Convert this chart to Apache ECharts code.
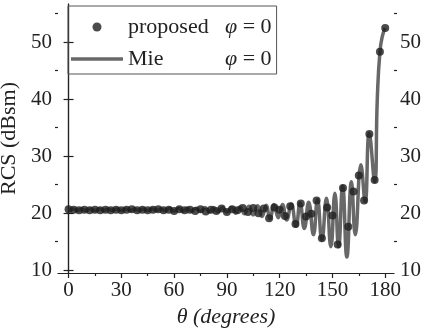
<!DOCTYPE html>
<html>
<head>
<meta charset="utf-8">
<script src="https://cdn.jsdelivr.net/npm/echarts@6/dist/echarts.min.js"></script>
<style>
  html, body { margin: 0; padding: 0; background: #fff; }
  #chart { width: 432px; height: 332px; }
</style>
</head>
<body>
<div id="chart"></div>
<script>
// proposed method, sampled every 3 degrees
const proposedTheta = [0, 3, 6, 9, 12, 15, 18, 21, 24, 27, 30, 33, 36, 39, 42, 45, 48, 51, 54, 57,
  60, 63, 66, 69, 72, 75, 78, 81, 84, 87, 90, 93, 96, 99, 102, 105, 108, 111, 114, 117,
  120, 123, 126, 129, 132, 135, 138, 141, 144, 147, 150, 153, 156, 159, 162, 165, 168, 171, 174, 177, 180];
const proposedRcs = [20.7, 20.6, 20.5, 20.6, 20.5, 20.6, 20.5, 20.6, 20.5, 20.6, 20.5, 20.6, 20.7, 20.5, 20.6, 20.5, 20.6, 20.7, 20.5, 20.6,
  20.4, 20.7, 20.5, 20.6, 20.4, 20.7, 20.3, 20.6, 20.4, 20.8, 20.2, 20.7, 20.5, 20.9, 20.2, 20.9, 20.0, 20.8, 19.1, 21.0,
  20.6, 19.5, 21.2, 18.1, 21.7, 19.4, 19.9, 22.2, 15.6, 21.0, 19.6, 14.5, 24.4, 17.6, 23.8, 26.6, 22.2, 33.9, 25.8, 48.3, 52.5];

// Mie reference curve (read at its peaks and troughs)
const mieTheta = [0, 2.5, 5, 7.5, 10, 12.5, 15, 17.5, 20, 22.5, 25, 27.5, 30, 32.5, 35, 37.5, 40, 42.5, 45, 47.5,
  50, 52.5, 55, 57.5, 60, 62.5, 65, 67.5, 70, 72.5, 75, 77.5, 80, 82.5, 85, 87.5, 90, 92.5, 95, 97.5,
  100, 102.5, 105, 107.5, 110, 112.3, 114.5, 116.8, 119.2, 121.6, 124, 126.6, 129.3, 131.6, 134, 136.5,
  139.2, 141.5, 144, 146.6, 149.1, 151.4, 153.5, 155.8, 158.2, 160.8, 163, 166.2, 168.6, 170.9, 174,
  175.5, 177, 178.5, 180];
const mieRcs = [20.45, 20.75, 20.45, 20.75, 20.45, 20.75, 20.45, 20.75, 20.45, 20.75, 20.45, 20.75, 20.45, 20.75, 20.45, 20.75, 20.45, 20.75, 20.45, 20.75,
  20.45, 20.75, 20.45, 20.85, 20.35, 20.85, 20.35, 20.85, 20.35, 20.85, 20.35, 21.0, 20.2, 21.0, 20.2, 21.0, 20.2, 21.0, 20.0, 21.1,
  19.9, 21.2, 19.7, 21.3, 19.4, 21.4, 19.0, 21.5, 19.2, 21.5, 18.8, 21.6, 17.7, 21.8, 17.3, 21.9,
  16.2, 22.4, 15.3, 22.6, 14.1, 23.5, 14.1, 24.7, 12.3, 25.5, 16.2, 28.5, 22.0, 34.0, 25.5,
  40.0, 48.3, 51.2, 52.5];

const xMajor = [0, 30, 60, 90, 120, 150, 180];
const xMinor = [15, 45, 75, 105, 135, 165];
const yMajor = [10, 20, 30, 40, 50];
const yMinor = [15, 25, 35, 45, 55];

const FONT = "'Liberation Serif', 'DejaVu Serif', serif";
const AXIS_COLOR = "#222";
const LINE_COLOR = "#686868";
const X_MIN = -6, X_MAX = 185, Y_MIN = 9.5, Y_MAX = 56.7;

const chart = echarts.init(document.getElementById("chart"), null, { renderer: "canvas" });

function xAxisDef(ticks, len, labels, line) {
  return {
    type: "value", position: "bottom", min: X_MIN, max: X_MAX,
    axisLine: { show: line, lineStyle: { color: AXIS_COLOR, width: 1.2 } },
    axisTick: { show: true, customValues: ticks, length: len, lineStyle: { color: AXIS_COLOR, width: 1.2 } },
    axisLabel: labels
      ? { show: true, customValues: labels, margin: 7, color: "#222", fontFamily: FONT, fontSize: 21 }
      : { show: false },
    splitLine: { show: false }
  };
}

function yAxisDef(pos, ticks, len, labels, line) {
  return {
    type: "value", position: pos, min: Y_MIN, max: Y_MAX,
    axisLine: { show: line, lineStyle: { color: AXIS_COLOR, width: 1.2 } },
    axisTick: { show: true, customValues: ticks, length: len, lineStyle: { color: AXIS_COLOR, width: 1.2 } },
    axisLabel: labels
      ? { show: true, customValues: labels, margin: 6, color: "#222", fontFamily: FONT, fontSize: 21 }
      : { show: false },
    splitLine: { show: false }
  };
}

const xMain = xAxisDef(xMajor, 5, xMajor, true);
xMain.name = "θ (degrees)";
xMain.nameLocation = "middle";
xMain.nameGap = 30;
xMain.nameTextStyle = { fontFamily: FONT, fontSize: 22, fontStyle: "italic", color: "#222" };

const yLeft = yAxisDef("left", yMajor, 5, yMajor, true);
yLeft.name = "RCS (dBsm)";
yLeft.nameLocation = "middle";
yLeft.nameGap = 28;
yLeft.nameTextStyle = { fontFamily: FONT, fontSize: 22, color: "#222" };

const option = {
  animation: false,
  backgroundColor: "#fff",
  grid: { left: 58, right: 38, top: 4, bottom: 59, containLabel: false, outerBoundsMode: "none" },
  xAxis: [xMain, xAxisDef(xMinor, 3, null, false)],
  yAxis: [
    yLeft,
    yAxisDef("right", yMajor, 5, yMajor, true),
    yAxisDef("left", yMinor, 3, null, false),
    yAxisDef("right", yMinor, 3, null, false)
  ],
  legend: {
    left: 68, top: 6, orient: "vertical",
    padding: [9, 5, 3, 3],
    itemGap: 8,
    itemWidth: 52, itemHeight: 9,
    borderColor: "#555", borderWidth: 1,
    data: [
      { name: "proposed", icon: "circle" },
      // plain bar as the line sample, no marker in the middle
      { name: "Mie", icon: "path://M0,0L52,0L52,3.5L0,3.5Z", itemStyle: { color: LINE_COLOR } }
    ],
    formatter: name => `{n|${name}}{p|φ}{e| = 0}`,
    textStyle: {
      fontFamily: FONT, fontSize: 22, color: "#222", lineHeight: 24,
      rich: {
        n: { width: 97, fontFamily: FONT, fontSize: 22, color: "#222" },
        p: { fontFamily: FONT, fontSize: 22, fontStyle: "italic", color: "#222" },
        e: { fontFamily: FONT, fontSize: 22, color: "#222" }
      }
    }
  },
  series: [
    {
      name: "Mie", type: "line", smooth: 0.5, symbol: "none", showSymbol: false, z: 2,
      data: mieTheta.map((t, i) => [t, mieRcs[i]]),
      lineStyle: { color: LINE_COLOR, width: 3.5 },
      itemStyle: { color: LINE_COLOR }
    },
    {
      name: "proposed", type: "scatter", symbolSize: 8, z: 3,
      data: proposedTheta.map((t, i) => [t, proposedRcs[i]]),
      itemStyle: { color: "#1e1e1e" }
    }
  ]
};
chart.setOption(option);
</script>
</body>
</html>
